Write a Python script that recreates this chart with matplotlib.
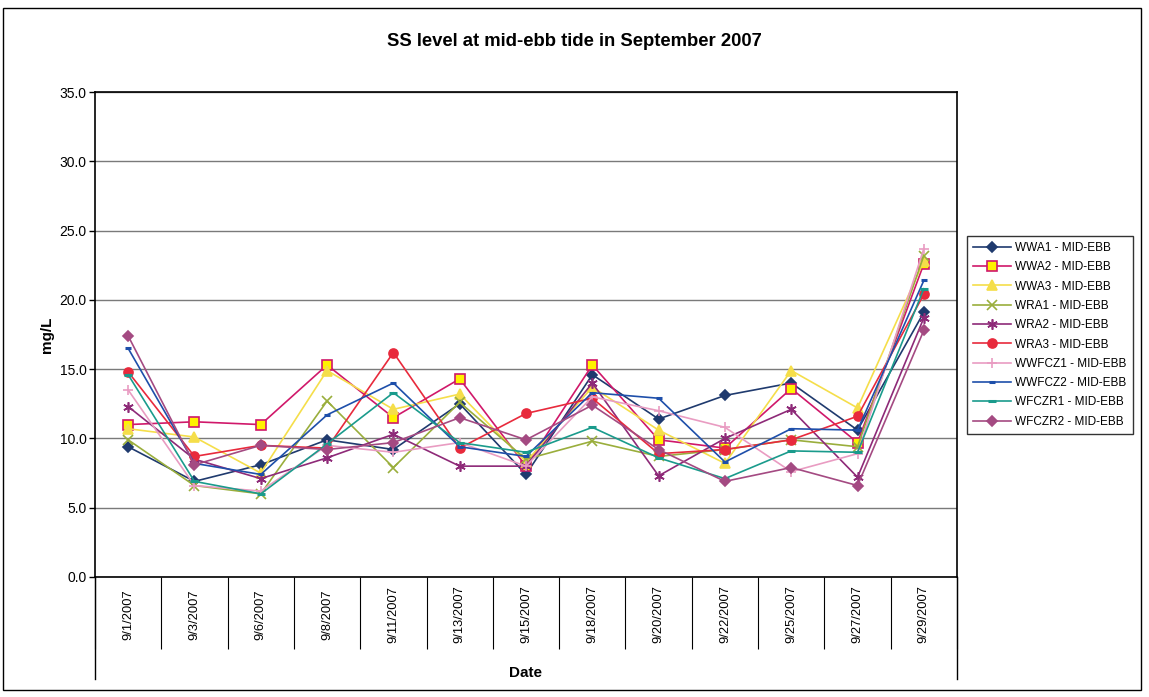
import numpy as np
import matplotlib
matplotlib.use("Agg")
import matplotlib.pyplot as plt
from matplotlib.patches import Rectangle

plt.rcParams['font.family'] = ['Liberation Sans', 'DejaVu Sans']

dates = ["9/1/2007", "9/3/2007", "9/6/2007", "9/8/2007", "9/11/2007", "9/13/2007",
         "9/15/2007", "9/18/2007", "9/20/2007", "9/22/2007", "9/25/2007", "9/27/2007",
         "9/29/2007"]

# SS (mg/L) per station
wwa1 = [9.4, 6.9, 8.1, 9.9, 9.2, 12.5, 7.4, 14.6, 11.4, 13.1, 14.0, 10.6, 19.1]
wwa2 = [11.0, 11.2, 11.0, 15.3, 11.5, 14.3, 8.0, 15.3, 9.9, 9.3, 13.6, 9.7, 22.6]
wwa3 = [10.7, 10.1, 7.5, 14.9, 12.1, 13.2, 8.3, 13.7, 10.6, 8.2, 14.9, 12.2, 22.8]
wra1 = [9.9, 6.6, 6.0, 12.7, 7.9, 12.6, 8.5, 9.8, 8.7, 9.2, 9.9, 9.4, 23.2]
wra2 = [12.3, 8.5, 7.1, 8.6, 10.3, 8.0, 8.0, 14.0, 7.3, 10.0, 12.1, 7.2, 18.7]
wra3 = [14.8, 8.7, 9.5, 9.3, 16.2, 9.3, 11.8, 12.9, 8.9, 9.2, 9.9, 11.6, 20.4]
wwfcz1 = [13.5, 6.6, 6.2, 9.5, 9.0, 9.7, 8.0, 13.0, 12.0, 10.8, 7.6, 8.9, 23.7]
wwfcz2 = [16.5, 8.2, 7.4, 11.7, 14.0, 9.4, 8.7, 13.3, 12.9, 8.3, 10.7, 10.6, 21.4]
wfczr1 = [14.6, 6.9, 6.0, 9.6, 13.3, 9.7, 9.0, 10.8, 8.6, 7.1, 9.1, 9.0, 20.8]
wfczr2 = [17.4, 8.1, 9.5, 9.2, 9.7, 11.5, 9.9, 12.4, 9.2, 6.9, 7.9, 6.6, 17.8]

series = [
    ("WWA1 - MID-EBB", wwa1, '#1F3A6E', 'D', '#1F3A6E', 5.5),
    ("WWA2 - MID-EBB", wwa2, '#D0186A', 's', '#FFF200', 6.5),
    ("WWA3 - MID-EBB", wwa3, '#F5DE4A', '^', '#F5DE4A', 6.5),
    ("WRA1 - MID-EBB", wra1, '#9AAE3C', 'x', '#9AAE3C', 6.5),
    ("WRA2 - MID-EBB", wra2, '#8E2A78', (6, 2, 0), '#8E2A78', 7.5),
    ("WRA3 - MID-EBB", wra3, '#E82A3C', 'o', '#E82A3C', 6.5),
    ("WWFCZ1 - MID-EBB", wwfcz1, '#E99CC2', '+', '#E99CC2', 7.5),
    ("WWFCZ2 - MID-EBB", wwfcz2, '#1E4FAA', '_', '#1E4FAA', 5),
    ("WFCZR1 - MID-EBB", wfczr1, '#1A9B8C', '_', '#1A9B8C', 6),
    ("WFCZR2 - MID-EBB", wfczr2, '#A44A82', 'D', '#A44A82', 5.5),
]

fig = plt.figure(figsize=(11.49, 6.97), dpi=100)
ax = fig.add_axes([95 / 1149, 1 - 577 / 697, (957 - 95) / 1149, (577 - 92) / 697])

x = np.arange(len(dates))
for name, vals, col, mk, face, ms in series:
    mew = 2.2 if mk == '_' else 1.2
    ax.plot(x, vals, color=col, lw=1.2, marker=mk, markersize=ms,
            markerfacecolor=face, markeredgecolor=col, markeredgewidth=mew,
            label=name)

ax.set_xlim(-0.5, len(dates) - 0.5)
ax.set_ylim(0, 35)
ax.set_yticks(np.arange(0, 36, 5))
ax.set_yticklabels(["%.1f" % v for v in np.arange(0, 36, 5)], fontsize=10)
ax.yaxis.grid(True, color='#7a7a7a', lw=1)
ax.set_axisbelow(True)
ax.tick_params(axis='y', direction='out', length=4, width=1, pad=2)

ax.set_xticks(x)
ax.set_xticklabels(dates, rotation=90, fontsize=9.3, va='center')
ax.set_xticks(np.arange(-0.5, len(dates), 1), minor=True)
ax.tick_params(axis='x', which='major', length=0, pad=27)
ax.tick_params(axis='x', which='minor', direction='out', length=52, width=0.8)

# long outer boundary lines of the category band
for xb in (-0.5, len(dates) - 0.5):
    ax.plot([xb, xb], [0, -0.21], transform=ax.get_xaxis_transform(),
            color='black', lw=1, clip_on=False)

for s in ax.spines.values():
    s.set_color('black')
    s.set_linewidth(1.2)

ax.set_ylabel("mg/L", fontsize=11, fontweight='bold', labelpad=4)
ax.set_xlabel("Date", fontsize=11, fontweight='bold', labelpad=9)
fig.text(0.5, 1 - 42 / 697, "SS level at mid-ebb tide in September 2007",
         ha='center', va='center', fontsize=13.3, fontweight='bold')

leg = fig.legend(loc='upper left', bbox_to_anchor=(967 / 1149, 1 - 236 / 697),
                 borderaxespad=0, fontsize=8.5, frameon=True, fancybox=False,
                 handlelength=3.2, borderpad=0.5, labelspacing=0.62, handletextpad=0.4)
leg.get_frame().set_edgecolor('black')
leg.get_frame().set_linewidth(1)

fig.patches.append(Rectangle((3 / 1149, 1 - 690 / 697), (1141 - 3) / 1149, (690 - 8) / 697,
                             transform=fig.transFigure, fill=False,
                             edgecolor='black', lw=1))

fig.savefig("out.png", dpi=100)
